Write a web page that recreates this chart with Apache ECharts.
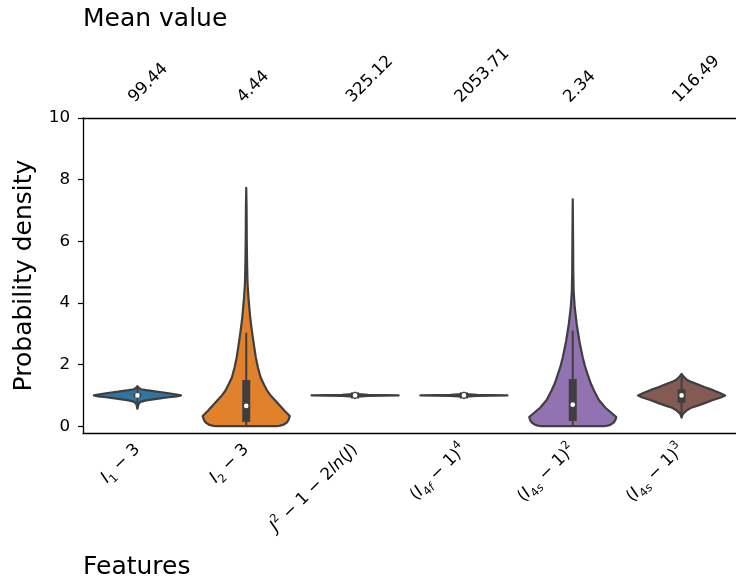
<!DOCTYPE html>
<html>
<head>
<meta charset="utf-8">
<script src="https://cdn.jsdelivr.net/npm/echarts@6/dist/echarts.min.js"></script>
<style>
  html, body { margin: 0; padding: 0; background: #fff; }
  #chart { width: 736px; height: 583px; }
</style>
</head>
<body>
<div id="chart"></div>
<script>
// features, _{..} = subscript, ^{..} = superscript
const categories = ['I_{1} − 3', 'I_{2} − 3', 'J^{2} − 1 − 2ln(J)', '(I_{4f} − 1)^{4}', '(I_{4s} − 1)^{2}', '(I_{4s} − 1)^{3}']
const meanValues = ['99.44', '4.44', '325.12', '2053.71', '2.34', '116.49']
const yTicks = [0, 2, 4, 6, 8, 10]

// violin outlines: heights and relative half widths (1 = widest)
const violinY = [
  [0.57, 0.7, 0.79, 0.84, 0.88, 0.94, 0.97, 1.0, 1.03, 1.07, 1.13, 1.17, 1.2, 1.26, 1.3],
  [0, 0.02, 0.05, 0.12, 0.2, 0.33, 0.5, 0.72, 1.0, 1.15, 1.4, 1.58, 1.9, 2.23, 2.6, 2.89, 3.2, 3.54, 4.19, 4.63, 5.2, 6.0, 7.0, 7.73],
  [0.93, 0.96, 0.98, 1.0, 1.02, 1.04, 1.07],
  [0.93, 0.96, 0.98, 1.0, 1.02, 1.04, 1.07],
  [0, 0.02, 0.05, 0.12, 0.2, 0.3, 0.6, 0.85, 1.15, 1.4, 1.69, 1.95, 2.23, 2.5, 2.78, 3.05, 3.32, 3.86, 4.4, 5.0, 6.0, 7.36],
  [0.28, 0.4, 0.52, 0.6, 0.66, 0.75, 0.85, 0.93, 1.0, 1.08, 1.17, 1.27, 1.37, 1.45, 1.5, 1.6, 1.7]
]
const violinW = [
  [0, 0.02, 0.07, 0.2, 0.4, 0.72, 0.9, 1.0, 0.9, 0.72, 0.4, 0.2, 0.08, 0.02, 0],
  [0.7, 0.78, 0.86, 0.93, 0.97, 1.0, 0.88, 0.74, 0.56, 0.48, 0.39, 0.33, 0.27, 0.22, 0.18, 0.15, 0.12, 0.09, 0.05, 0.03, 0.02, 0.012, 0.008, 0],
  [0, 0.05, 0.3, 1.0, 0.3, 0.05, 0],
  [0, 0.05, 0.3, 1.0, 0.3, 0.05, 0],
  [0.72, 0.8, 0.87, 0.94, 0.98, 1.0, 0.75, 0.6, 0.49, 0.41, 0.34, 0.28, 0.23, 0.19, 0.15, 0.12, 0.09, 0.045, 0.02, 0.012, 0.008, 0],
  [0, 0.03, 0.12, 0.22, 0.35, 0.53, 0.72, 0.9, 1.0, 0.88, 0.72, 0.52, 0.35, 0.2, 0.13, 0.05, 0]
]
const q1 = [0.95, 0.14, 0.9, 0.9, 0.17, 0.76]
const q3 = [1.06, 1.5, 1.1, 1.1, 1.53, 1.2]
const medians = [1.0, 0.66, 1.0, 1.0, 0.7, 1.0]
const whiskerLow = [0.6, 0, 0.88, 0.88, 0, 0.35]
const whiskerHigh = [1.25, 3.03, 1.12, 1.12, 3.1, 1.65]

const colors = ['#3274a1', '#e1812c', '#3a923a', '#c03d3e', '#9372b2', '#845b53']
const gray = '#3f3f3f'
const font = 'DejaVu Sans'

// mathtext-like label -> echarts rich text
function toRich(label) {
  let out = ''
  const re = /([_^])\{([^}]*)\}|([^_^]+)/g
  let m
  while ((m = re.exec(label))) {
    const pre = m[1] === '_' ? 's' : m[1] === '^' ? 'p' : ''
    const txt = m[1] ? m[2] : m[3]
    txt.split(/([A-Za-z]+)/).forEach(part => {
      if (!part) return
      out += '{' + pre + (/[A-Za-z]/.test(part) ? 'i' : 'n') + '|' + part + '}'
    })
  }
  return out
}

const chart = echarts.init(document.getElementById('chart'))

chart.setOption({
  animation: false,
  textStyle: { fontFamily: font },
  graphic: [
    { type: 'text', left: 83, top: 7, style: { text: 'Mean value', font: '25px "DejaVu Sans"', fill: '#000' } },
    { type: 'text', left: 83, top: 555, style: { text: 'Features', font: '25px "DejaVu Sans"', fill: '#000' } }
  ],
  grid: { left: 83, top: 118, width: 660, height: 315, containLabel: false },
  xAxis: [
    {
      type: 'category',
      position: 'bottom',
      data: categories,
      axisLine: { onZero: false, lineStyle: { color: '#000', width: 1.3 } },
      axisTick: { alignWithLabel: true, length: 5, lineStyle: { color: '#000', width: 1.2 } },
      splitLine: { show: false },
      axisLabel: {
        interval: 0,
        rotate: 45,
        margin: 14,
        color: '#000',
        formatter: v => toRich(v),
        rich: {
          i: { fontSize: 16.7, fontStyle: 'italic', lineHeight: 24, fontFamily: font },
          n: { fontSize: 16.7, lineHeight: 24, fontFamily: font },
          si: { fontSize: 11.5, fontStyle: 'italic', lineHeight: 14, verticalAlign: 'bottom', fontFamily: font },
          sn: { fontSize: 11.5, lineHeight: 14, verticalAlign: 'bottom', fontFamily: font },
          pi: { fontSize: 11.5, fontStyle: 'italic', lineHeight: 14, verticalAlign: 'top', fontFamily: font },
          pn: { fontSize: 11.5, lineHeight: 14, verticalAlign: 'top', fontFamily: font }
        }
      }
    },
    {
      type: 'category',
      position: 'top',
      data: categories,
      axisLine: { onZero: false, lineStyle: { color: '#000', width: 1.3 } },
      axisTick: { alignWithLabel: true, length: 5, lineStyle: { color: '#000', width: 1.2 } },
      splitLine: { show: false },
      axisLabel: {
        interval: 0,
        rotate: -45,
        margin: 12,
        verticalAlign: 'bottom',
        color: '#000',
        fontSize: 16.7,
        fontFamily: font,
        formatter: (v, idx) => meanValues[idx]
      }
    }
  ],
  yAxis: {
    type: 'value',
    min: -0.22,
    max: 10,
    name: 'Probability density',
    nameLocation: 'middle',
    nameGap: 46,
    nameTextStyle: { fontSize: 25, color: '#000', fontFamily: font },
    axisLine: { show: true, lineStyle: { color: '#000', width: 1.3 } },
    axisTick: { show: true, length: 5, customValues: yTicks, lineStyle: { color: '#000', width: 1.2 } },
    axisLabel: { customValues: yTicks, fontSize: 16.7, color: '#000', margin: 13, fontFamily: font },
    splitLine: { show: false }
  },
  series: [{
    type: 'custom',
    xAxisIndex: 0,
    yAxisIndex: 0,
    data: categories.map((c, i) => [i]),
    encode: { x: 0 },
    renderItem: (params, api) => {
      const i = api.value(0)
      const half = api.size([1, 0])[0] * 0.4
      const cx = api.coord([i, 0])[0]
      const ys = violinY[i], ws = violinW[i]
      const right = ys.map((y, k) => [cx + ws[k] * half, api.coord([i, y])[1]])
      const left = ys.map((y, k) => [cx - ws[k] * half, api.coord([i, y])[1]]).reverse()
      const yq1 = api.coord([i, q1[i]])[1]
      const yq3 = api.coord([i, q3[i]])[1]
      return {
        type: 'group',
        children: [
          {
            type: 'polygon',
            shape: { points: right.concat(left) },
            style: { fill: colors[i], stroke: gray, lineWidth: 2.2, lineJoin: 'round' }
          },
          {
            type: 'line',
            shape: { x1: cx, y1: api.coord([i, whiskerLow[i]])[1], x2: cx, y2: api.coord([i, whiskerHigh[i]])[1] },
            style: { stroke: gray, lineWidth: 2 }
          },
          {
            type: 'rect',
            shape: { x: cx - 4, y: yq3, width: 8, height: yq1 - yq3 },
            style: { fill: gray }
          },
          {
            type: 'circle',
            shape: { cx: cx, cy: api.coord([i, medians[i]])[1], r: 2.3 },
            style: { fill: '#fff' }
          }
        ]
      }
    }
  }]
})
</script>
</body>
</html>
